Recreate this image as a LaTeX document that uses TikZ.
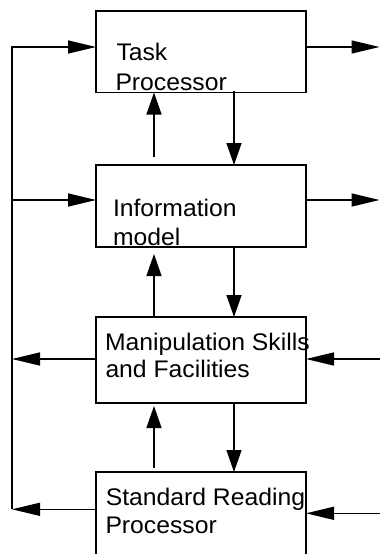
\documentclass[tikz,border=0pt]{standalone}
\usepackage{fontspec}
\setmainfont{Liberation Sans}[FakeStretch=1.03]
\usetikzlibrary{arrows.meta}
\begin{document}
\begin{tikzpicture}[x=1pt,y=-1pt,
  line width=1.4pt,
  box/.style={draw,rectangle,inner sep=0pt,outer sep=0pt,minimum width=210pt},
  label/.style={anchor=base west,inner sep=0pt,outer sep=0pt,
    font=\fontsize{24}{28}\selectfont},
  harr/.style={-{Triangle[length=28pt,width=13pt]}},
  varr/.style={-{Triangle[length=22pt,width=15pt]}}]
  \useasboundingbox (0,0) rectangle (380,554);
  \fill[white] (0,0) rectangle (380,554);

  % the four processing blocks
  \node[box,minimum height=81.5pt] (b1) at (201,51.75) {};
  \node[box,minimum height=82pt]   (b2) at (201,206) {};
  \node[box,minimum height=86pt]   (b3) at (201,360) {};
  \node[box,minimum height=108pt]  (b4) at (201,526) {};

  % block captions
  \node[label] (t1a) at (116.5,60) {Task};
  \node[label] (t1b) at (115.5,90.7) {Processor};
  \node[label] (t2a) at (113,216.7) {Information};
  \node[label] (t2b) at (113,245) {model};
  \node[label] (t3a) at (105,350) {Manipulation Skills};
  \node[label] (t3b) at (105.5,377.7) {and Facilities};
  \node[label] (t4a) at (105.8,505) {Standard Reading};
  \node[label] (t4b) at (105.5,533.3) {Processor};

  % feedback bus on the left
  \coordinate (l1) at (12,47);
  \coordinate (l2) at (12,200);
  \coordinate (l3) at (12,359);
  \coordinate (l4) at (12,509.3);
  \draw[harr] (l4) -- (l1) -- (l1 -| b1.west);
  \draw[harr] (l2) -- (l2 -| b2.west);
  \draw[harr] (l3 -| b3.west) -- (l3);
  \draw[harr] (l4 -| b4.west) -- (l4);

  % outputs and inputs on the right
  \coordinate (r1) at (379.5,47);
  \coordinate (r2) at (379.5,200);
  \coordinate (r3) at (380,359);
  \coordinate (r4) at (380,513.3);
  \draw[harr] (r1 -| b1.east) -- (r1);
  \draw[harr] (r2 -| b2.east) -- (r2);
  \draw[harr] (r3) -- (r3 -| b3.east);
  \draw[harr] (r4) -- (r4 -| b4.east);

  % vertical links between neighbouring blocks
  \coordinate (u1) at (154,157);
  \coordinate (u2) at (154,254);
  \coordinate (u3s) at (154,468);
  \coordinate (u3) at (154,406);
  \coordinate (d1) at (234,91);
  \coordinate (d2) at (234,247);
  \coordinate (d3) at (234,403);
  \draw[varr] (u1) -- (u1 |- b1.south);
  \draw[varr] (d1) -- (d1 |- b2.north);
  \draw[varr] (u2 |- b3.north) -- (u2);
  \draw[varr] (d2) -- (d2 |- b3.north);
  \draw[varr] (u3s) -- (u3);
  \draw[varr] (d3) -- (d3 |- b4.north);
\end{tikzpicture}
\end{document}
